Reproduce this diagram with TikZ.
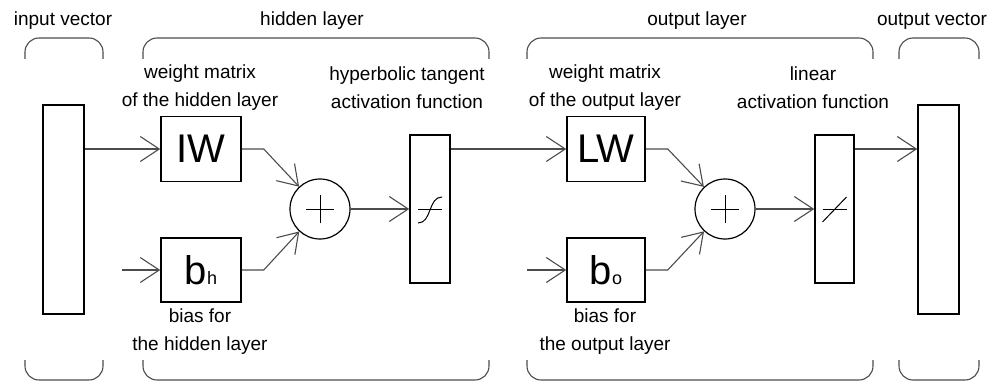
\documentclass[tikz,border=0pt]{standalone}
\usepackage{fontspec}
\setmainfont{Liberation Sans}
\usetikzlibrary{arrows.meta}

\begin{document}
\begin{tikzpicture}[x=1pt,y=-1pt,every node/.style={font=\fontsize{19}{28}\selectfont,text=black},
  blk/.style={draw,line width=1.5pt,inner sep=0pt},
  big/.style={font=\fontsize{40}{40}\selectfont},
  lbl/.style={align=center},
  arr/.style={draw=black!70,line width=1.1pt,-{Straight Barb[length=19pt,width=25pt]}},
  brk/.style={draw=black!70,line width=1.1pt,rounded corners=14pt}]
  \useasboundingbox (0,0) rectangle (993,385);
  % blocks
  \node[blk,minimum width=41,minimum height=209] (inv) at (63.5,209.5) {};
  \node[blk,big,minimum width=80,minimum height=65] (iw) at (201,149) {IW};
  \node[blk,big,minimum width=80,minimum height=64] (bh) at (201,270) {b{\fontsize{18}{18}\selectfont h}};
  \node[blk,circle,minimum size=60,line width=1.2pt] (sum) at (320,209) {};
  \node[blk,minimum width=40,minimum height=148] (th) at (430,209) {};
  \node[blk,big,minimum width=78,minimum height=65] (lw) at (606,149) {LW};
  \node[blk,big,minimum width=78,minimum height=64] (bo) at (606,270) {b{\fontsize{18}{18}\selectfont o}};
  \node[blk,circle,minimum size=60,line width=1.2pt] (sumo) at (725,209) {};
  \node[blk,minimum width=39,minimum height=148] (lin) at (834.5,209) {};
  \node[blk,minimum width=41,minimum height=209] (ov) at (938.5,209.5) {};
  \coordinate (bhin) at (122,270);
  \coordinate (boin) at (527,270);
  % symbols
  \draw[line width=0.9pt] ([xshift=-14]sum.center) -- ([xshift=14]sum.center);
  \draw[line width=0.9pt] ([yshift=-14]sum.center) -- ([yshift=14]sum.center);
  \draw[line width=0.9pt] ([xshift=-14]sumo.center) -- ([xshift=14]sumo.center);
  \draw[line width=0.9pt] ([yshift=-14]sumo.center) -- ([yshift=14]sumo.center);
  \draw[line width=0.9pt] ([xshift=-12]th.center) -- ([xshift=12]th.center);
  \draw[line width=1pt] ([shift={(-12,14)}]th.center) .. controls ([shift={(2,14)}]th.center) and ([shift={(-2,-12)}]th.center) .. ([shift={(12,-12)}]th.center);
  \draw[line width=0.9pt] ([xshift=-12]lin.center) -- ([xshift=12]lin.center);
  \draw[line width=1pt] ([shift={(-12,13)}]lin.center) -- ([shift={(12,-12)}]lin.center);
  % connectors
  \draw[arr] (iw.west -| inv.east) -- (iw.west);
  \draw[arr] (bhin) -- (bh.west);
  \draw[arr] (iw.east) -- ++(22,0) -- (sum);
  \draw[arr] (bh.east) -- ++(22,0) -- (sum);
  \draw[arr] (sum) -- (th);
  \draw[arr] (lw.west -| th.east) -- (lw.west);
  \draw[arr] (boin) -- (bo.west);
  \draw[arr] (lw.east) -- ++(22,0) -- (sumo);
  \draw[arr] (bo.east) -- ++(22,0) -- (sumo);
  \draw[arr] (sumo) -- (lin);
  \draw[arr] (lw.west -| lin.east) -- (lw.west -| ov.west);
  % brackets
  \draw[brk] (25,59) -- (25,38) -- (103,38) -- (103,59);
  \draw[brk] (25,360) -- (25,380) -- (103,380) -- (103,360);
  \draw[brk] (143,59) -- (143,38) -- (489,38) -- (489,59);
  \draw[brk] (143,360) -- (143,380) -- (489,380) -- (489,360);
  \draw[brk] (527,59) -- (527,38) -- (873,38) -- (873,59);
  \draw[brk] (527,360) -- (527,380) -- (873,380) -- (873,360);
  \draw[brk] (899,59) -- (899,38) -- (979,38) -- (979,59);
  \draw[brk] (899,360) -- (899,380) -- (979,380) -- (979,360);
  % labels
  \node (tin) at (63,21) {input vector};
  \node (thid) at (312,21) {hidden layer};
  \node (tout) at (697,21) {output layer};
  \node (tov) at (932,21) {output vector};
  \node[lbl] (tiw) at (200,88) {weight matrix\\of the hidden layer};
  \node[lbl] (tth) at (407,88) {hyperbolic tangent\\activation function};
  \node[lbl] (tlw) at (605,88) {weight matrix\\of the output layer};
  \node[lbl] (tlin) at (813,88) {linear\\activation function};
  \node[lbl] (tbh) at (200,332) {bias for\\the hidden layer};
  \node[lbl] (tbo) at (605,332) {bias for\\the output layer};
\end{tikzpicture}
\end{document}
